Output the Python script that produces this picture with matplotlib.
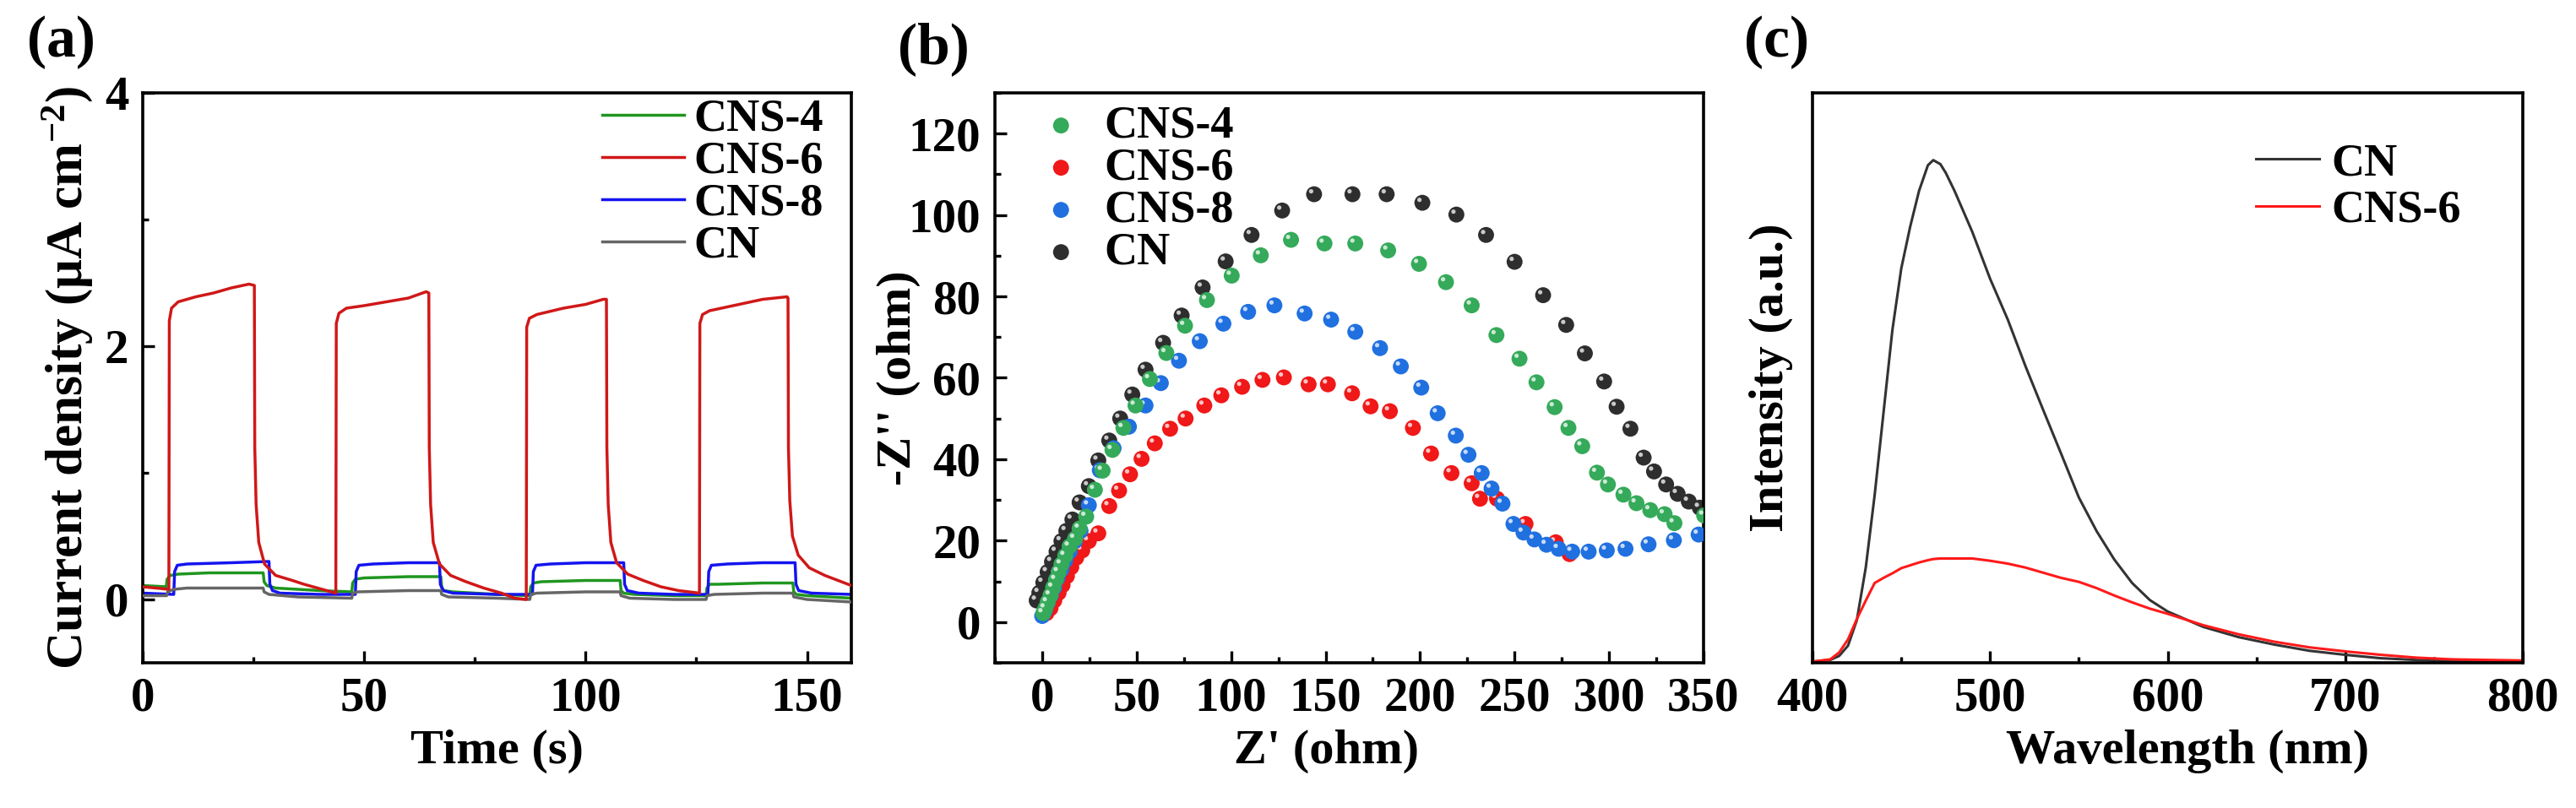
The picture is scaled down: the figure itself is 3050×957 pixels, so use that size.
import numpy as np
import matplotlib
matplotlib.use("Agg")
import matplotlib.pyplot as plt
from matplotlib.ticker import MultipleLocator, NullLocator
from matplotlib.transforms import offset_copy

plt.rcParams['font.family'] = ['Liberation Serif', 'DejaVu Serif']
plt.rcParams['font.weight'] = 'bold'
plt.rcParams['axes.labelweight'] = 'bold'
plt.rcParams['mathtext.fontset'] = 'custom'
plt.rcParams['mathtext.rm'] = 'Liberation Serif:bold'
plt.rcParams['mathtext.it'] = 'Liberation Serif:italic:bold'
plt.rcParams['mathtext.bf'] = 'Liberation Serif:bold'

# ---------------- (a) photocurrent ----------------
t_cns6 = [0, 3, 5.9, 6.0, 6.5, 8, 12, 16, 20, 24, 25.2, 25.3, 25.6, 26.2, 27.5, 30, 33.8, 36.4, 39.5, 43.6,
          43.7, 44.3, 46, 50, 55, 60, 64, 64.6, 64.7, 65.0, 65.6, 67, 69.5, 73, 77, 81, 84, 86.6,
          86.7, 87.3, 89, 95, 100, 104, 104.7, 104.8, 105.1, 105.7, 107, 109.5, 113, 117, 121, 125.7,
          125.8, 126.4, 128, 132, 136, 140, 145.5, 145.7, 145.8, 146.1, 146.7, 148, 150.5, 154, 157, 160]
j_cns6 = [0.10, 0.09, 0.08, 2.20, 2.30, 2.35, 2.39, 2.42, 2.46, 2.49, 2.48, 1.2, 0.75, 0.45, 0.28, 0.19, 0.15, 0.12, 0.09, 0.05,
          2.18, 2.26, 2.30, 2.32, 2.35, 2.38, 2.43, 2.42, 1.2, 0.75, 0.45, 0.28, 0.19, 0.14, 0.09, 0.05, 0.01, 0.0,
          2.15, 2.22, 2.25, 2.30, 2.33, 2.37, 2.37, 1.2, 0.75, 0.45, 0.29, 0.20, 0.15, 0.10, 0.07, 0.05,
          2.18, 2.25, 2.28, 2.31, 2.34, 2.37, 2.39, 2.38, 1.2, 0.78, 0.50, 0.35, 0.25, 0.19, 0.15, 0.11]

t_cns8 = [0, 7.0, 7.2, 7.8, 10, 20, 28.5, 28.7, 29.3, 31, 40, 48.0, 48.2, 48.8, 52, 60, 67.0, 67.2, 67.8, 70, 80,
          88.0, 88.2, 88.8, 92, 100, 108.6, 108.8, 109.4, 112, 120, 127.6, 127.8, 128.4, 132, 140, 147.3, 147.5, 148.1, 151, 160]
j_cns8 = [0.05, 0.04, 0.22, 0.27, 0.28, 0.29, 0.30, 0.12, 0.07, 0.05, 0.04, 0.04, 0.22, 0.27, 0.28, 0.29, 0.29, 0.12, 0.07, 0.05, 0.04,
          0.04, 0.22, 0.27, 0.28, 0.29, 0.29, 0.12, 0.07, 0.05, 0.04, 0.04, 0.22, 0.27, 0.28, 0.29, 0.29, 0.12, 0.07, 0.05, 0.04]

t_cns4 = [0, 5.3, 5.5, 6.2, 8, 15, 27.2, 27.4, 28, 30, 40, 47.2, 47.4, 48, 50, 60, 67.3, 67.5, 68, 70, 80,
          87.4, 87.6, 88.2, 90, 100, 107.8, 108, 108.6, 111, 120, 127.2, 127.4, 128, 130, 140, 146.8, 147, 147.6, 150, 160]
j_cns4 = [0.11, 0.10, 0.16, 0.19, 0.20, 0.21, 0.21, 0.14, 0.11, 0.09, 0.07, 0.06, 0.13, 0.16, 0.17, 0.18, 0.18, 0.10, 0.07, 0.06, 0.04,
          0.03, 0.10, 0.13, 0.14, 0.15, 0.15, 0.07, 0.05, 0.04, 0.03, 0.03, 0.09, 0.12, 0.12, 0.13, 0.13, 0.06, 0.04, 0.03, 0.01]

t_cn = [0, 5.4, 5.6, 7, 10, 27.2, 27.4, 28.5, 35, 47.2, 47.4, 48.5, 60, 67.3, 67.5, 69, 80,
        87.4, 87.6, 89, 100, 107.8, 108, 110, 120, 127.2, 127.4, 129, 140, 146.8, 147, 150, 160]
j_cn = [0.03, 0.03, 0.06, 0.08, 0.09, 0.09, 0.06, 0.04, 0.02, 0.01, 0.05, 0.06, 0.07, 0.07, 0.04, 0.02, 0.01,
        0.0, 0.04, 0.05, 0.06, 0.06, 0.03, 0.01, 0.0, 0.0, 0.03, 0.04, 0.05, 0.05, 0.02, 0.0, -0.02]

# ---------------- (b) Nyquist ----------------
zr_cn = [-2.9, -1.5, 0.6, 2.9, 5.2, 7.6, 10.2, 12.8, 16, 19.8, 24.7, 29.7, 35.5, 41.3, 47.7, 54.7, 64, 73.8, 84.9,
         97.1, 110.8, 127, 143.9, 164.2, 182.3, 201.2, 219.2, 234.9, 250, 265.1, 277.3, 287.2, 297.4, 304, 311.3,
         318.3, 323.8, 330.2, 336.3, 342.2, 348]
zi_cn = [5.3, 7.2, 9.7, 12.3, 14.8, 17.3, 19.9, 22.4, 25.2, 29.4, 33.4, 39.7, 44.6, 50, 55.9, 62, 68.6, 75.3, 82.2,
         88.6, 95.1, 101.1, 105.1, 105.1, 105.1, 103, 100.1, 95.1, 88.5, 80.3, 73, 66, 59.1, 52.9, 47.5,
         40.4, 37, 33.8, 31.5, 29.6, 28.1]

zr_cns4 = [0.6, 1.7, 2.9, 4.4, 5.8, 7.3, 8.7, 10.2, 12.2, 14.5, 17.4, 19.8, 23.3, 27.9, 32, 37.2, 43, 49.4, 57, 65.7,
           75.6, 87.2, 100.3, 115.7, 131.7, 149.4, 165.7, 183.1, 199.4, 213.7, 227.3, 240.4, 252.6, 261.6, 271.2,
           278.5, 285.8, 293.6, 299.4, 307.6, 314.5, 321.8, 329.4, 334.6, 350.3]
zi_cns4 = [2.2, 3.4, 4.9, 6.6, 8.5, 10.4, 12.3, 14.2, 16.3, 18.6, 20.5, 23.0, 25.9, 32.5, 37.2, 42.3, 47.7, 53.2, 59.7, 66.1,
           72.8, 79.1, 85.1, 90.1, 93.9, 93, 93, 91.3, 88, 83.5, 77.8, 70.5, 64.7, 58.9, 52.8,
           47.7, 43.2, 36.7, 33.8, 31.3, 29.2, 27.5, 26.5, 24.3, 26.2]

zr_cns8 = [0, 1.5, 2.9, 4.7, 6.4, 8.1, 10.2, 12.2, 14.5, 17.4, 20.3, 24.7, 30.5, 37.8, 45.9, 54.7, 62.8, 72.4, 83.4,
           95.9, 109, 122.9, 138.9, 152.9, 165.7, 178.8, 189.8, 200.6, 209.3, 218.9, 225.6, 232.6, 237.8, 243.6,
           249.4, 254.7, 260.5, 266.9, 273.3, 280.5, 289.2, 298.8, 308.7, 320.9, 334.3, 347.4]
zi_cns8 = [1.5, 2.8, 4.7, 6.6, 8.5, 10.8, 12.9, 15.1, 17.3, 19.9, 22.4, 28.7, 37.3, 42.7, 48, 53.2, 58.7, 64.2, 69,
           73.3, 76.2, 77.8, 75.8, 74.3, 71.3, 67.3, 62.8, 57.6, 51.3, 45.8, 41.1, 36.6, 32.8, 29.1,
           24.1, 22, 20.3, 19, 18, 17.3, 17.3, 17.6, 18, 19.1, 20.1, 21.5]

zr_cns6 = [2.3, 4.4, 6.4, 8.7, 10.8, 13.1, 15.4, 18, 21.2, 24.7, 29.7, 35.5, 40.7, 46.5, 52.6, 59.6, 67.7, 75.9, 85.8,
           94.8, 105.8, 116.6, 127.9, 141, 151.2, 164, 173.8, 184, 196.2, 205.8, 216.6, 227.3, 231.7, 240.7,
           255.8, 271.8, 279.1]
zi_cns6 = [2.2, 3.4, 5.3, 7.2, 9.1, 11.3, 13.5, 15.8, 17.6, 19.9, 21.8, 28.5, 32.3, 36.3, 40.1, 43.9, 47.5, 50, 53.2,
           55.7, 57.8, 59.5, 60.1, 58.4, 58.4, 56.2, 53, 51.8, 47.7, 41.4, 36.6, 34.1, 30.3, 30.3,
           24.1, 19.6, 16.7]

# ---------------- (c) PL ----------------
wl = [400, 410, 415, 420, 425, 430, 435, 440, 445, 450, 455, 460, 465, 468, 472, 475, 480, 490, 500, 510, 520,
      530, 540, 550, 560, 570, 580, 590, 600, 620, 640, 660, 680, 700, 720, 740, 760, 800]
pl_cn = [0.002, 0.005, 0.012, 0.03, 0.075, 0.167, 0.294, 0.439, 0.584, 0.692, 0.765, 0.828, 0.873, 0.882, 0.875, 0.86,
         0.828, 0.756, 0.674, 0.602, 0.52, 0.443, 0.367, 0.29, 0.231, 0.181, 0.14, 0.11, 0.09, 0.063, 0.045, 0.032,
         0.021, 0.014, 0.008, 0.005, 0.003, 0.002]
pl_cns6 = [0.002, 0.006, 0.018, 0.041, 0.077, 0.109, 0.14, 0.149, 0.157, 0.166, 0.171, 0.176, 0.180, 0.182, 0.183, 0.183,
           0.183, 0.183, 0.179, 0.174, 0.167, 0.158, 0.149, 0.142, 0.131, 0.118, 0.106, 0.095, 0.086, 0.066, 0.05,
           0.037, 0.027, 0.02, 0.014, 0.009, 0.006, 0.004]

W, H = 3050, 957
fig = plt.figure(figsize=(W / 100, H / 100), dpi=100)

TOP, BOT = 110, 785

def box(l, r):
    return [l / W, (H - BOT) / H, (r - l) / W, (BOT - TOP) / H]

ax_a = fig.add_axes(box(169, 1008))
ax_b = fig.add_axes(box(1178, 2017))
ax_c = fig.add_axes(box(2146, 2987))

TICK = 41
LAB = 42
LEG = 39

def style(ax, left_px, right_px, ylab_x_px, xlab_x_px=None):
    width_px = right_px - left_px
    for s in ax.spines.values():
        s.set_linewidth(2.6)
    ax.tick_params(which='both', direction='in', width=2.4, labelsize=TICK)
    ax.tick_params(which='major', length=10)
    ax.tick_params(which='minor', length=5)
    ax.tick_params(axis='x', pad=12)
    ax.tick_params(axis='y', pad=12)
    ax.yaxis.label.set_va('center')
    ax.xaxis.label.set_va('center')
    ax.yaxis.set_label_coords((ylab_x_px - left_px) / width_px, 0.5)
    if xlab_x_px is None:
        xlab_x_px = (left_px + right_px) / 2
    ax.xaxis.set_label_coords((xlab_x_px - left_px) / width_px, -(890 - BOT) / (BOT - TOP))

# (a)
ax_a.plot(t_cns4, j_cns4, color='#1f961f', lw=2.5, label='CNS-4', zorder=2)
ax_a.plot(t_cns8, j_cns8, color='#1414f0', lw=2.5, label='CNS-8', zorder=2)
ax_a.plot(t_cn, j_cn, color='#666666', lw=2.5, label='CN', zorder=3)
ax_a.plot(t_cns6, j_cns6, color='#d01818', lw=2.5, label='CNS-6', zorder=4)
ax_a.set_xlim(0, 160)
ax_a.set_ylim(-0.5, 4)
ax_a.xaxis.set_major_locator(MultipleLocator(50))
ax_a.xaxis.set_minor_locator(MultipleLocator(25))
ax_a.yaxis.set_major_locator(MultipleLocator(2))
ax_a.yaxis.set_minor_locator(MultipleLocator(1))
ax_a.set_xlabel('Time (s)', fontsize=LAB)
ax_a.set_ylabel('Current density (μA cm$^{-2}$)', fontsize=LAB + 2)
style(ax_a, 169, 1008, 80)
h, l = ax_a.get_legend_handles_labels()
order = [l.index(n) for n in ['CNS-4', 'CNS-6', 'CNS-8', 'CN']]
ax_a.legend([h[i] for i in order], [l[i] for i in order], loc='upper left', frameon=False,
            fontsize=LEG, handlelength=1.8, handletextpad=0.2, labelspacing=0.0,
            borderpad=0, borderaxespad=0, bbox_to_anchor=(0.648, 0.99))

# (b)
def spheres(ax, x, y, color, label, z):
    ax.scatter(x, y, s=185, color=color, edgecolors='none', label=label, zorder=z)
    tr = offset_copy(ax.transData, fig=fig, x=-2.5, y=2.5, units='points')
    ax.scatter(x, y, s=14, color='white', alpha=0.75, edgecolors='none', transform=tr, zorder=z + 0.5)

spheres(ax_b, zr_cn, zi_cn, '#2e2e2e', 'CN', 2)
spheres(ax_b, zr_cns6, zi_cns6, '#f01818', 'CNS-6', 3)
spheres(ax_b, zr_cns8, zi_cns8, '#2070e0', 'CNS-8', 4)
spheres(ax_b, zr_cns4, zi_cns4, '#35aa5a', 'CNS-4', 5)
ax_b.set_xlim(-25, 350)
ax_b.set_ylim(-10, 130)
ax_b.xaxis.set_major_locator(MultipleLocator(50))
ax_b.xaxis.set_minor_locator(MultipleLocator(25))
ax_b.yaxis.set_major_locator(MultipleLocator(20))
ax_b.yaxis.set_minor_locator(MultipleLocator(10))
ax_b.set_xlabel("Z' (ohm)", fontsize=LAB)
ax_b.set_ylabel("-Z'' (ohm)", fontsize=LAB)
style(ax_b, 1178, 2017, 1064, 1571)
h, l = ax_b.get_legend_handles_labels()
order = [l.index(n) for n in ['CNS-4', 'CNS-6', 'CNS-8', 'CN']]
ax_b.legend([h[i] for i in order], [l[i] for i in order], loc='upper left', frameon=False,
            fontsize=LEG, handlelength=1.0, handletextpad=0.44, labelspacing=0.0,
            borderpad=0, borderaxespad=0, bbox_to_anchor=(0.061, 0.978))

# (c)
ax_c.plot(wl, pl_cn, color='#333333', lw=2.2, label='CN')
ax_c.plot(wl, pl_cns6, color='#ff1a1a', lw=2.2, label='CNS-6')
ax_c.set_xlim(400, 800)
ax_c.set_ylim(0, 1)
ax_c.xaxis.set_major_locator(MultipleLocator(100))
ax_c.xaxis.set_minor_locator(MultipleLocator(50))
ax_c.yaxis.set_major_locator(NullLocator())
ax_c.set_xlabel('Wavelength (nm)', fontsize=LAB)
ax_c.set_ylabel('Intensity (a.u.)', fontsize=LAB)
style(ax_c, 2146, 2987, 2097, 2590)
ax_c.legend(loc='upper left', frameon=False, fontsize=LEG, handlelength=1.39, handletextpad=0.26,
            labelspacing=0.1, borderpad=0, borderaxespad=0, bbox_to_anchor=(0.624, 0.912))

fig.text(72 / W, 1 - 50 / H, '(a)', fontsize=50, ha='center', va='center')
fig.text(1105 / W, 1 - 58 / H, '(b)', fontsize=50, ha='center', va='center')
fig.text(2104 / W, 1 - 50 / H, '(c)', fontsize=50, ha='center', va='center')

fig.savefig('out.png', dpi=100)
